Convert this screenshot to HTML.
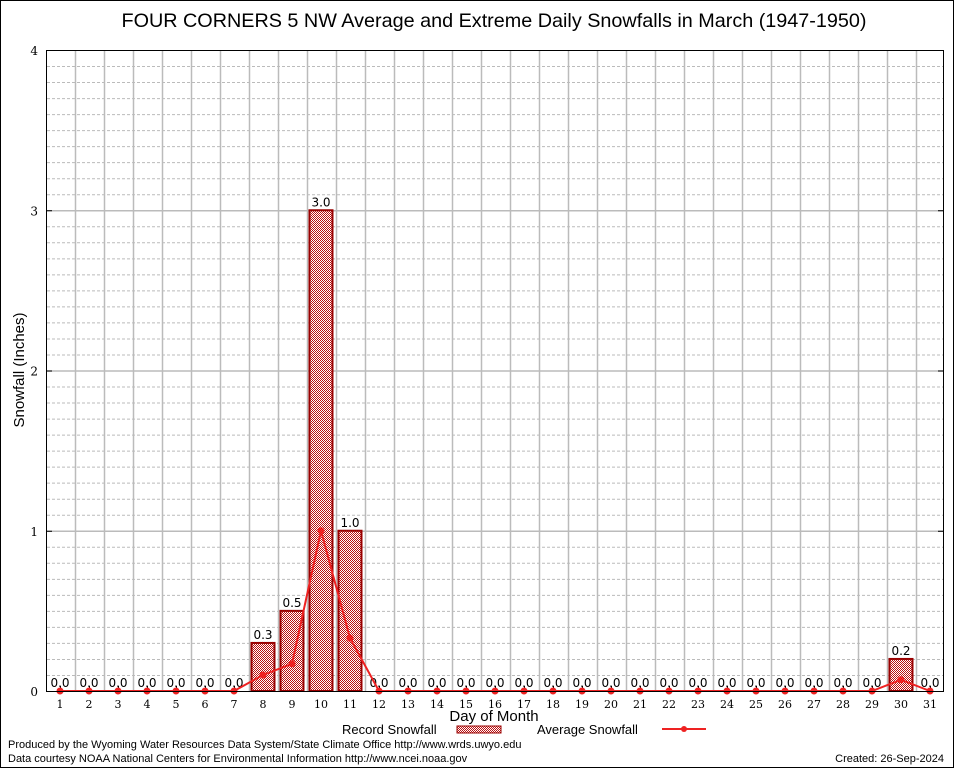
<!DOCTYPE html>
<html><head><meta charset="utf-8"><style>
html,body{margin:0;padding:0;background:#fff}
svg{display:block}
</style></head><body>
<svg id="chart" width="954" height="768" xmlns="http://www.w3.org/2000/svg">
<defs>
<pattern id="chk" width="2" height="2" patternUnits="userSpaceOnUse">
<rect width="2" height="2" fill="#fff"/>
<rect width="1" height="1" fill="#b11"/><rect x="1" y="1" width="1" height="1" fill="#b11"/>
</pattern>
</defs>
<rect x="0.5" y="0.5" width="953" height="767" fill="#fff" stroke="#000"/>
<text x="494" y="27" text-anchor="middle" font-family="Liberation Sans, sans-serif" font-size="19.8">FOUR CORNERS 5 NW Average and Extreme Daily Snowfalls in March (1947-1950)</text>
<g id="grid"></g>
<g id="marks"></g>
<rect x="46.5" y="50.5" width="897" height="641" fill="none" stroke="#000"/>
<text transform="translate(24,370) rotate(-90)" text-anchor="middle" font-family="Liberation Sans, sans-serif" font-size="15">Snowfall (Inches)</text>
<text x="494" y="721" text-anchor="middle" font-family="Liberation Sans, sans-serif" font-size="15">Day of Month</text>
<g>
<text x="342" y="734" font-family="Liberation Sans, sans-serif" font-size="13">Record Snowfall</text>
<rect x="457" y="726" width="44" height="7" fill="url(#chk)" stroke="#900"/>
<text x="537" y="734" font-family="Liberation Sans, sans-serif" font-size="13">Average Snowfall</text>
<line x1="662" y1="729" x2="706" y2="729" stroke="#e22" stroke-width="2"/>
<circle cx="684" cy="729" r="3" fill="#e22"/>
</g>
<text x="8" y="748" font-family="Liberation Sans, sans-serif" font-size="11">Produced by the Wyoming Water Resources Data System/State Climate Office http://www.wrds.uwyo.edu</text>
<text x="8" y="762" font-family="Liberation Sans, sans-serif" font-size="11">Data courtesy NOAA National Centers for Environmental Information http://www.ncei.noaa.gov</text>
<text x="944" y="762" text-anchor="end" font-family="Liberation Sans, sans-serif" font-size="11">Created:  26-Sep-2024</text>
</svg>
<script>
const days=[1,2,3,4,5,6,7,8,9,10,11,12,13,14,15,16,17,18,19,20,21,22,23,24,25,26,27,28,29,30,31];
const recordValues=[0,0,0,0,0,0,0,0.3,0.5,3.0,1.0,0,0,0,0,0,0,0,0,0,0,0,0,0,0,0,0,0,0,0.2,0];
const averageValues=[0,0,0,0,0,0,0,0.1,0.17,1.0,0.33,0,0,0,0,0,0,0,0,0,0,0,0,0,0,0,0,0,0,0.07,0];
const yTicks=[0,1,2,3,4];
const NS='http://www.w3.org/2000/svg';
function x(d){return 60+(d-1)*29;}
function y(v){return 691-v*160.25;}
function mk(t,a,p){const e=document.createElementNS(NS,t);for(const k in a)e.setAttribute(k,a[k]);p.appendChild(e);return e;}
const grid=document.getElementById('grid'),marks=document.getElementById('marks');
for(let i=1;i<40;i++){const v=i*0.1;if(v>=4)break;if(i%10===0)continue;
const l=mk('line',{x1:47,x2:943,y1:y(v)+0.5,y2:y(v)+0.5,stroke:'#bbb','stroke-dasharray':'3,2'},grid);

}
for(let d=1;d<31;d++){const gx=Math.round(x(d)+14.5)+0.5;
const l=mk('line',{x1:gx,x2:gx,y1:51,y2:691,stroke:'#bbb','stroke-width':1.5},grid);

}
yTicks.forEach(t=>{const yy=y(t)+0.5;
if(t>0&&t<4){const l=mk('line',{x1:47,x2:943,y1:yy,y2:yy,stroke:'#bbb','stroke-width':1.5},grid);

}
const tk=mk('path',{d:`M46 ${yy}h6M944 ${yy}h-6`,stroke:'#000'},grid);


const tx=mk('text',{x:38,y:y(t)+5,'text-anchor':'end','font-family':'DejaVu Serif, serif','font-size':12},grid);tx.textContent=t;

});
days.forEach((d,i)=>{const bx=x(d);
const tk=mk('path',{d:`M${bx+0.5} 691v-5`,stroke:'#000'},grid);


const tx=mk('text',{x:bx,y:708,'text-anchor':'middle','font-family':'DejaVu Serif, serif','font-size':11},grid);tx.textContent=d;


const v=recordValues[i];
if(v>0){const r=mk('rect',{x:bx-11.5,y:y(v),width:23,height:691-y(v),fill:'url(#chk)',stroke:'#900','stroke-width':2},marks);

}
const lb=mk('text',{x:bx,y:y(v)-4,'text-anchor':'middle','font-family':'DejaVu Sans, sans-serif','font-size':12},marks);lb.textContent=v.toFixed(1);

});
const pts=days.map((d,i)=>x(d)+','+y(averageValues[i])).join(' ');
const pl=mk('polyline',{points:pts,fill:'none',stroke:'#e22','stroke-width':2},marks);


days.forEach((d,i)=>{const c=mk('circle',{cx:x(d),cy:y(averageValues[i]),r:3.5,fill:'#e22'},marks);

});
</script>
</body></html>
